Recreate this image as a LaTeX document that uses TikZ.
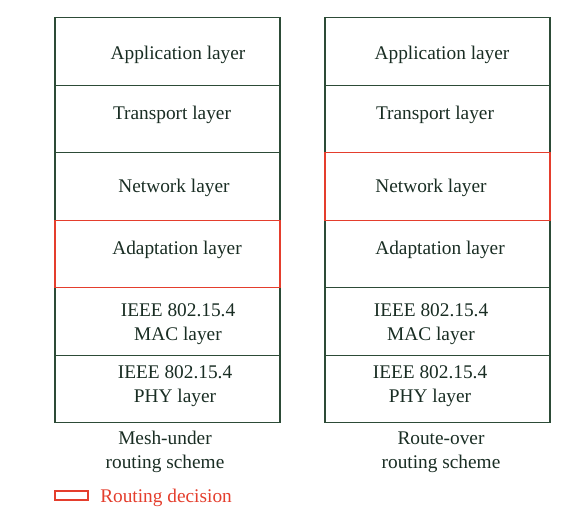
\documentclass[tikz,border=0pt]{standalone}
\usepackage{fontspec}
\setmainfont{Liberation Serif}
\definecolor{stackline}{RGB}{45,75,55}
\definecolor{stacktext}{RGB}{25,45,35}
\definecolor{routered}{RGB}{228,62,45}
\tikzset{
  layer/.style={draw=stackline, line width=0.8pt, minimum width=168.75pt, minimum height=50.6pt, inner sep=0pt},
  decision/.style={layer, draw=routered},
  txt/.style={text=stacktext, font=\fontsize{14.5}{18}\selectfont, align=center, inner sep=0pt},
}
\begin{document}
\begin{tikzpicture}[x=0.75pt, y=-0.75pt]
    \useasboundingbox (0,0) rectangle (582,519);

    % Mesh-under stack
    \node[layer] (mApp) at (167.5,51.5) {};
    \node[layer] (mTra) at (167.5,119) {};
    \node[layer] (mNet) at (167.5,186.5) {};
    \node[layer] (mMac) at (167.5,321.5) {};
    \node[layer] (mPhy) at (167.5,389) {};
    \node[decision] (mAda) at (167.5,254) {};

    % Route-over stack
    \node[layer] (rApp) at (437.5,51.5) {};
    \node[layer] (rTra) at (437.5,119) {};
    \node[layer] (rAda) at (437.5,254) {};
    \node[layer] (rMac) at (437.5,321.5) {};
    \node[layer] (rPhy) at (437.5,389) {};
    \node[decision] (rNet) at (437.5,186.5) {};

    % Layer names
    \node[txt] (mAppT) at (178,55) {Application layer};
    \node[txt] (mTraT) at (172,115) {Transport layer};
    \node[txt] (mNetT) at (174,188) {Network layer};
    \node[txt] (mAdaT) at (177,250) {Adaptation layer};
    \node[txt] (mMacT) at (178,324) {IEEE 802.15.4\\MAC layer};
    \node[txt] (mPhyT) at (175,386) {IEEE 802.15.4\\PHY layer};

    \node[txt] (rAppT) at (442,55) {Application layer};
    \node[txt] (rTraT) at (435,115) {Transport layer};
    \node[txt] (rNetT) at (431,188) {Network layer};
    \node[txt] (rAdaT) at (440,250) {Adaptation layer};
    \node[txt] (rMacT) at (431,324) {IEEE 802.15.4\\MAC layer};
    \node[txt] (rPhyT) at (430,386) {IEEE 802.15.4\\PHY layer};

    % Captions
    \node[txt] (mCap) at (165,452) {Mesh-under\\routing scheme};
    \node[txt] (rCap) at (441,452) {Route-over\\routing scheme};

    % Legend
    \node[decision, minimum width=24.75pt, minimum height=6.75pt] (key) at (71.5,495.5) {};
    \node[txt, text=routered, anchor=west] (keyT) at (100,498) {Routing decision};
\end{tikzpicture}
\end{document}
